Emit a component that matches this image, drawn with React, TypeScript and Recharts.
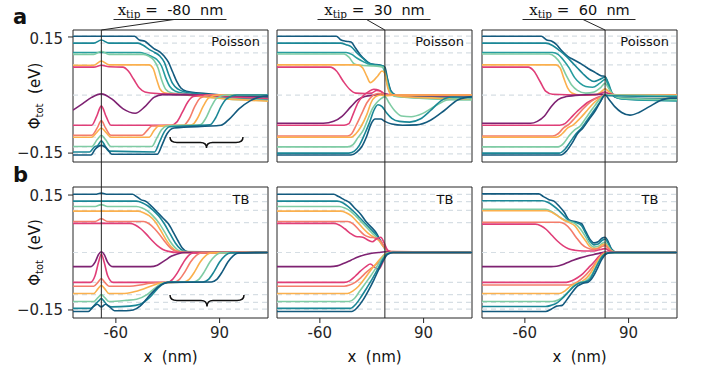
import React from 'react';
import { LineChart, Line, XAxis, YAxis, ReferenceLine, ReferenceArea } from 'recharts';

type Pt = [number, number];

const FONT = 'DejaVu Sans';
const INK = '#262626';

const X_DOMAIN: [number, number] = [-122, 160];
const X_TICKS = [-60, 90];
const Y_TICKS = [-0.15, 0.15];
const Y_DOMAIN_A: [number, number] = [-0.173, 0.168];
const Y_DOMAIN_B: [number, number] = [-0.171, 0.171];

const TIP_LABELS = ['-80', '30', '60'];
const TIP_X = [-81, 34, 56];
const LEVELS_A = [0.152, 0.134, 0.109, 0.078, 0, -0.078, -0.109, -0.134, -0.152];
const LEVELS_B = [0.152, 0.133, 0.11, 0.078, 0, -0.078, -0.11, -0.13, -0.148];

const DB = '#135a7e';
const TE = '#1a8796';
const TL = '#269d9e';
const MI = '#7fcca4';
const OR = '#fbb04d';
const SA = '#f47c6b';
const PI = '#e03e78';
const PU = '#7e2272';

const COLORS_A = [DB, TE, TL, MI, OR, PI, PU, PI, SA, OR, MI, TE, DB];
const COLORS_B = [DB, TE, MI, OR, SA, PI, PU, PI, SA, OR, MI, TE, DB];

// Poisson, x_tip = -80
const POISSON_M80: Pt[][] = [
  [[-122,0.152],[-33,0.152],[-26,0.142],[-18,0.139],[-12,0.13],[-5,0.12],[3,0.112],[10,0.1],[16,0.085],[22,0.06],[28,0.035],[34,0.018],[42,0.01],[70,0.004],[110,-0.002],[160,-0.006]],
  [[-122,0.134],[-92,0.134],[-81,0.142],[-70,0.134],[-28,0.134],[-20,0.128],[-12,0.118],[-4,0.11],[4,0.1],[10,0.085],[16,0.055],[22,0.03],[30,0.015],[40,0.008],[80,0.0],[160,-0.008]],
  [[-122,0.11],[-25,0.11],[-17,0.106],[-9,0.1],[-1,0.092],[6,0.075],[12,0.045],[18,0.022],[26,0.01],[40,0.004],[90,-0.005],[160,-0.012]],
  [[-122,0.105],[-92,0.105],[-81,0.113],[-70,0.105],[-20,0.105],[-12,0.1],[-5,0.09],[1,0.07],[6,0.04],[12,0.015],[20,0.006],[50,0.0],[100,-0.01],[160,-0.014]],
  [[-122,0.077],[-92,0.077],[-81,0.088],[-70,0.078],[-12,0.078],[-6,0.068],[-1,0.04],[4,0.015],[10,0.006],[40,0.0],[100,-0.01],[160,-0.016]],
  [[-122,0.072],[-92,0.072],[-81,0.077],[-70,0.073],[-50,0.072],[-42,0.062],[-34,0.04],[-26,0.018],[-18,0.008],[0,0.004],[40,0.002],[100,-0.004],[160,-0.009]],
  [[-122,-0.039],[-108,-0.022],[-95,-0.006],[-81,0.003],[-66,-0.01],[-50,-0.035],[-32,-0.047],[-18,-0.03],[-5,-0.006],[8,0.001],[50,0.0],[160,-0.003]],
  [[-122,-0.078],[-95,-0.078],[-88,-0.056],[-81,-0.028],[-74,-0.056],[-67,-0.078],[20,-0.078],[28,-0.07],[36,-0.045],[44,-0.018],[52,-0.004],[70,0.0],[160,0.0]],
  [[-122,-0.104],[-95,-0.104],[-87,-0.085],[-81,-0.066],[-75,-0.085],[-67,-0.104],[-22,-0.104],[-15,-0.092],[-8,-0.08],[38,-0.078],[46,-0.062],[54,-0.03],[62,-0.008],[75,0.0],[160,0.0]],
  [[-122,-0.109],[-95,-0.109],[-87,-0.095],[-81,-0.085],[-75,-0.095],[-67,-0.109],[-12,-0.109],[-5,-0.092],[2,-0.08],[50,-0.077],[58,-0.06],[66,-0.03],[74,-0.008],[88,0.0],[160,0.0]],
  [[-122,-0.133],[-95,-0.133],[-87,-0.115],[-81,-0.104],[-75,-0.115],[-67,-0.133],[-8,-0.133],[-1,-0.112],[6,-0.09],[14,-0.08],[62,-0.077],[70,-0.06],[78,-0.03],[86,-0.008],[100,0.0],[160,0.0]],
  [[-122,-0.147],[-98,-0.147],[-91,-0.134],[-86,-0.13],[-81,-0.118],[-76,-0.13],[-70,-0.145],[-4,-0.147],[3,-0.122],[10,-0.095],[18,-0.082],[76,-0.077],[84,-0.06],[92,-0.03],[100,-0.01],[115,0.0],[160,0.0]],
  [[-122,-0.155],[-96,-0.155],[-90,-0.14],[-81,-0.13],[-72,-0.14],[-66,-0.153],[0,-0.153],[7,-0.128],[14,-0.1],[24,-0.085],[92,-0.078],[104,-0.062],[118,-0.036],[134,-0.015],[148,-0.005],[160,-0.002]],
];

// Poisson, x_tip = 30
const POISSON_30: Pt[][] = [
  [[-122,0.152],[-36,0.152],[-30,0.143],[-22,0.139],[-15,0.137],[-8,0.12],[-2,0.105],[6,0.09],[14,0.08],[28,0.077],[34,0.072],[38,0.04],[43,0.01],[50,0.0],[80,-0.003],[160,-0.006]],
  [[-122,0.134],[-30,0.134],[-22,0.13],[-15,0.125],[-6,0.108],[2,0.095],[10,0.083],[20,0.078],[32,0.075],[37,0.045],[42,0.012],[50,0.0],[100,-0.004],[160,-0.007]],
  [[-122,0.11],[-22,0.11],[-14,0.105],[-6,0.095],[4,0.085],[14,0.078],[30,0.074],[36,0.045],[41,0.01],[50,-0.003],[100,-0.008],[160,-0.01]],
  [[-122,0.106],[-25,0.106],[-18,0.098],[-10,0.08],[-2,0.077],[20,0.075],[32,0.072],[36,0.04],[41,0.008],[50,-0.004],[100,-0.01],[160,-0.013]],
  [[-122,0.078],[-5,0.078],[2,0.07],[8,0.048],[13,0.032],[18,0.038],[24,0.05],[30,0.062],[34,0.055],[38,0.02],[43,0.002],[60,-0.004],[160,-0.01]],
  [[-122,0.072],[-45,0.072],[-36,0.062],[-26,0.035],[-17,0.015],[-8,0.005],[5,0.004],[15,0.005],[22,0.012],[28,0.01],[34,0.002],[45,0.0],[160,-0.002]],
  [[-122,-0.073],[-55,-0.073],[-40,-0.068],[-28,-0.055],[-15,-0.03],[-5,-0.012],[5,-0.004],[20,0.0],[33,0.003],[45,0.0],[160,-0.002]],
  [[-122,-0.078],[-25,-0.078],[-18,-0.074],[-12,-0.05],[-5,-0.02],[2,-0.003],[10,0.008],[18,0.015],[26,0.012],[34,0.002],[45,0.0],[160,0.0]],
  [[-122,-0.106],[-20,-0.106],[-14,-0.1],[-8,-0.08],[0,-0.05],[8,-0.02],[16,-0.002],[24,0.004],[30,0.004],[34,0.0],[45,0.0],[160,0.0]],
  [[-122,-0.109],[-15,-0.109],[-8,-0.1],[0,-0.08],[8,-0.05],[14,-0.02],[20,-0.005],[28,0.0],[34,-0.002],[50,0.0],[160,0.0]],
  [[-122,-0.134],[-20,-0.134],[-12,-0.128],[-5,-0.11],[3,-0.09],[10,-0.06],[16,-0.035],[22,-0.02],[28,-0.01],[34,-0.004],[40,-0.02],[48,-0.04],[58,-0.054],[72,-0.056],[88,-0.048],[105,-0.03],[125,-0.012],[145,-0.008],[160,-0.01]],
  [[-122,-0.15],[-18,-0.15],[-10,-0.145],[-3,-0.13],[5,-0.1],[12,-0.07],[18,-0.04],[24,-0.025],[30,-0.03],[36,-0.045],[44,-0.06],[55,-0.068],[70,-0.07],[85,-0.062],[100,-0.04],[115,-0.015],[130,-0.005],[160,-0.006]],
  [[-122,-0.155],[-15,-0.155],[-7,-0.148],[0,-0.135],[8,-0.105],[14,-0.075],[20,-0.062],[28,-0.062],[34,-0.068],[44,-0.075],[60,-0.078],[80,-0.077],[100,-0.065],[120,-0.04],[140,-0.012],[160,-0.004]],
];

// Poisson, x_tip = 60
const POISSON_60: Pt[][] = [
  [[-122,0.152],[-36,0.152],[-29,0.143],[-21,0.139],[-14,0.13],[-7,0.115],[2,0.1],[12,0.09],[22,0.08],[32,0.068],[42,0.058],[50,0.05],[56,0.048],[60,0.03],[65,0.005],[72,-0.006],[90,-0.008],[160,-0.01]],
  [[-122,0.134],[-30,0.134],[-20,0.128],[-10,0.115],[0,0.1],[8,0.085],[16,0.07],[24,0.055],[32,0.042],[40,0.035],[48,0.04],[56,0.046],[61,0.03],[66,0.005],[75,-0.008],[100,-0.012],[160,-0.014]],
  [[-122,0.11],[-20,0.11],[-12,0.105],[-4,0.09],[4,0.07],[12,0.045],[20,0.03],[28,0.022],[38,0.02],[48,0.03],[56,0.04],[62,0.02],[68,0.0],[80,-0.01],[160,-0.015]],
  [[-122,0.106],[-25,0.106],[-16,0.098],[-8,0.08],[0,0.05],[8,0.025],[16,0.012],[28,0.005],[40,0.008],[50,0.02],[56,0.03],[62,0.015],[68,0.0],[80,-0.008],[160,-0.012]],
  [[-122,0.078],[-15,0.078],[-9,0.07],[-4,0.045],[2,0.018],[8,0.005],[20,0.0],[40,0.0],[50,0.008],[56,0.016],[62,0.008],[70,0.0],[160,-0.005]],
  [[-122,0.072],[-55,0.072],[-47,0.062],[-38,0.035],[-30,0.01],[-20,0.002],[20,0.0],[45,0.001],[56,0.008],[62,0.003],[75,0.0],[160,0.0]],
  [[-122,-0.073],[-52,-0.073],[-42,-0.068],[-32,-0.055],[-22,-0.03],[-12,-0.012],[0,-0.004],[20,0.0],[56,0.002],[70,0.0],[160,0.0]],
  [[-122,-0.078],[-10,-0.078],[-2,-0.074],[6,-0.06],[14,-0.045],[22,-0.032],[30,-0.02],[40,-0.01],[50,-0.003],[56,0.0],[64,0.0],[160,0.0]],
  [[-122,-0.106],[-20,-0.106],[-12,-0.1],[-4,-0.085],[4,-0.075],[12,-0.06],[22,-0.04],[32,-0.022],[42,-0.01],[52,-0.003],[56,0.0],[64,0.0],[160,0.0]],
  [[-122,-0.109],[-14,-0.109],[-6,-0.1],[2,-0.085],[10,-0.077],[20,-0.06],[30,-0.04],[40,-0.02],[50,-0.006],[56,0.0],[64,0.0],[160,0.0]],
  [[-122,-0.134],[-12,-0.134],[-4,-0.125],[4,-0.105],[12,-0.09],[20,-0.08],[28,-0.06],[38,-0.035],[48,-0.012],[56,0.0],[62,0.0],[160,-0.002]],
  [[-122,-0.15],[-10,-0.15],[-2,-0.14],[6,-0.12],[14,-0.1],[22,-0.085],[30,-0.065],[40,-0.04],[48,-0.02],[56,0.0],[62,-0.002],[160,-0.004]],
  [[-122,-0.155],[-8,-0.155],[0,-0.145],[8,-0.125],[16,-0.1],[24,-0.085],[32,-0.065],[42,-0.04],[50,-0.015],[56,0.0],[62,-0.012],[70,-0.03],[80,-0.045],[92,-0.052],[105,-0.045],[120,-0.03],[135,-0.015],[150,-0.008],[160,-0.008]],
];

// TB, x_tip = -80
const TB_M80: Pt[][] = [
  [[-122,0.152],[-90,0.152],[-81,0.155],[-72,0.152],[-36,0.152],[-30,0.146],[-24,0.138],[-16,0.133],[-8,0.12],[0,0.105],[8,0.09],[16,0.075],[24,0.05],[30,0.03],[36,0.012],[44,0.002],[55,0.0],[160,0.0]],
  [[-122,0.134],[-30,0.134],[-22,0.13],[-14,0.122],[-6,0.11],[2,0.095],[10,0.075],[18,0.05],[26,0.025],[34,0.008],[42,0.001],[160,0.0]],
  [[-122,0.12],[-90,0.12],[-81,0.125],[-72,0.12],[-30,0.12],[-22,0.116],[-14,0.108],[-6,0.095],[2,0.078],[10,0.055],[18,0.03],[26,0.012],[34,0.003],[160,0.0]],
  [[-122,0.108],[-28,0.108],[-20,0.104],[-12,0.096],[-4,0.082],[4,0.06],[12,0.035],[20,0.015],[28,0.004],[40,0.0],[160,0.0]],
  [[-122,0.081],[-90,0.081],[-81,0.088],[-72,0.081],[-20,0.081],[-12,0.075],[-4,0.062],[4,0.045],[12,0.026],[20,0.01],[28,0.003],[40,0.0],[160,0.0]],
  [[-122,0.076],[-40,0.076],[-32,0.072],[-24,0.062],[-16,0.048],[-8,0.032],[0,0.018],[8,0.008],[16,0.003],[30,0.0],[160,0.0]],
  [[-122,-0.037],[-97,-0.037],[-90,-0.025],[-85,-0.005],[-81,0.002],[-77,-0.005],[-72,-0.025],[-64,-0.037],[-10,-0.037],[0,-0.033],[10,-0.022],[20,-0.01],[30,-0.003],[40,0.0],[160,0.0]],
  [[-122,-0.078],[-97,-0.078],[-90,-0.06],[-85,-0.025],[-81,-0.004],[-77,-0.025],[-72,-0.06],[-64,-0.078],[15,-0.078],[22,-0.07],[30,-0.05],[38,-0.025],[45,-0.008],[52,-0.001],[160,0.0]],
  [[-122,-0.088],[-92,-0.088],[-86,-0.078],[-81,-0.068],[-76,-0.078],[-70,-0.088],[-40,-0.088],[-25,-0.085],[-10,-0.08],[25,-0.077],[32,-0.07],[40,-0.05],[48,-0.025],[56,-0.008],[64,-0.001],[160,0.0]],
  [[-122,-0.107],[-92,-0.107],[-86,-0.095],[-81,-0.086],[-76,-0.095],[-70,-0.107],[-50,-0.107],[-35,-0.103],[-20,-0.095],[-5,-0.085],[5,-0.079],[38,-0.077],[46,-0.07],[54,-0.05],[62,-0.025],[70,-0.008],[78,-0.001],[160,0.0]],
  [[-122,-0.128],[-92,-0.128],[-86,-0.118],[-81,-0.11],[-76,-0.118],[-70,-0.128],[-45,-0.125],[-30,-0.122],[-15,-0.11],[-5,-0.095],[5,-0.082],[15,-0.078],[52,-0.077],[60,-0.07],[68,-0.05],[76,-0.025],[84,-0.008],[92,-0.001],[160,0.0]],
  [[-122,-0.146],[-96,-0.146],[-90,-0.135],[-84,-0.125],[-81,-0.12],[-78,-0.125],[-72,-0.138],[-66,-0.142],[-40,-0.14],[-25,-0.135],[-10,-0.115],[0,-0.095],[10,-0.08],[20,-0.077],[66,-0.077],[74,-0.07],[82,-0.05],[90,-0.025],[98,-0.008],[106,-0.001],[160,0.0]],
  [[-122,-0.154],[-100,-0.154],[-93,-0.142],[-87,-0.135],[-81,-0.142],[-75,-0.135],[-69,-0.142],[-62,-0.152],[-45,-0.152],[-35,-0.15],[-25,-0.14],[-15,-0.12],[-5,-0.1],[5,-0.085],[15,-0.078],[78,-0.077],[86,-0.07],[94,-0.05],[102,-0.025],[110,-0.008],[118,-0.001],[160,0.0]],
];

// TB, x_tip = 30
const TB_30: Pt[][] = [
  [[-122,0.152],[-40,0.152],[-33,0.146],[-25,0.138],[-17,0.13],[-9,0.115],[-1,0.1],[7,0.08],[15,0.065],[22,0.05],[28,0.03],[34,0.012],[40,0.003],[50,0.0],[160,0.0]],
  [[-122,0.134],[-35,0.134],[-27,0.13],[-19,0.12],[-10,0.105],[-2,0.09],[6,0.075],[14,0.06],[22,0.045],[28,0.028],[34,0.01],[40,0.002],[160,0.0]],
  [[-122,0.12],[-32,0.12],[-24,0.116],[-16,0.108],[-8,0.095],[0,0.08],[8,0.065],[16,0.05],[24,0.035],[30,0.02],[36,0.006],[44,0.0],[160,0.0]],
  [[-122,0.108],[-30,0.108],[-22,0.104],[-14,0.095],[-6,0.08],[2,0.064],[10,0.05],[18,0.04],[26,0.03],[32,0.015],[38,0.004],[46,0.0],[160,0.0]],
  [[-122,0.081],[-20,0.081],[-12,0.075],[-4,0.06],[4,0.046],[12,0.04],[20,0.038],[28,0.03],[34,0.012],[40,0.003],[160,0.0]],
  [[-122,0.076],[-40,0.076],[-32,0.072],[-24,0.062],[-16,0.05],[-8,0.042],[2,0.04],[10,0.032],[16,0.028],[22,0.036],[28,0.04],[33,0.025],[38,0.006],[45,0.0],[160,0.0]],
  [[-122,-0.037],[-45,-0.037],[-35,-0.035],[-25,-0.028],[-15,-0.02],[-5,-0.012],[5,-0.006],[15,-0.002],[25,0.0],[34,0.002],[42,0.0],[160,0.0]],
  [[-122,-0.078],[-25,-0.078],[-17,-0.074],[-9,-0.062],[-1,-0.048],[7,-0.036],[13,-0.03],[19,-0.038],[25,-0.044],[30,-0.03],[35,-0.008],[42,0.0],[160,0.0]],
  [[-122,-0.088],[-25,-0.088],[-17,-0.085],[-9,-0.078],[-1,-0.066],[7,-0.052],[15,-0.04],[22,-0.03],[28,-0.02],[34,-0.006],[42,0.0],[160,0.0]],
  [[-122,-0.107],[-20,-0.107],[-12,-0.1],[-4,-0.088],[4,-0.07],[12,-0.05],[20,-0.032],[28,-0.015],[35,-0.003],[42,0.0],[160,0.0]],
  [[-122,-0.128],[-18,-0.128],[-10,-0.12],[-2,-0.1],[6,-0.08],[14,-0.06],[22,-0.038],[30,-0.015],[36,-0.003],[44,0.0],[160,0.0]],
  [[-122,-0.146],[-16,-0.146],[-8,-0.135],[0,-0.115],[8,-0.092],[16,-0.068],[24,-0.042],[31,-0.018],[37,-0.004],[44,0.0],[160,0.0]],
  [[-122,-0.154],[-14,-0.154],[-6,-0.144],[2,-0.125],[10,-0.1],[18,-0.072],[25,-0.045],[32,-0.02],[38,-0.005],[46,0.0],[160,0.0]],
];

// TB, x_tip = 60
const TB_60: Pt[][] = [
  [[-122,0.153],[-40,0.153],[-33,0.146],[-25,0.138],[-18,0.134],[-10,0.12],[-3,0.105],[4,0.085],[14,0.08],[22,0.075],[28,0.055],[34,0.035],[40,0.025],[46,0.028],[52,0.038],[56,0.04],[60,0.03],[65,0.01],[72,0.001],[160,0.0]],
  [[-122,0.135],[-35,0.135],[-27,0.131],[-19,0.122],[-11,0.11],[-3,0.095],[5,0.082],[14,0.078],[22,0.07],[28,0.05],[34,0.03],[40,0.02],[46,0.022],[52,0.032],[56,0.035],[61,0.022],[66,0.006],[74,0.0],[160,0.0]],
  [[-122,0.113],[-30,0.113],[-22,0.108],[-14,0.098],[-6,0.088],[2,0.082],[12,0.076],[20,0.062],[28,0.04],[34,0.022],[40,0.014],[46,0.016],[52,0.024],[56,0.027],[61,0.015],[66,0.004],[74,0.0],[160,0.0]],
  [[-122,0.109],[-28,0.109],[-20,0.104],[-12,0.095],[-4,0.085],[4,0.078],[12,0.07],[20,0.05],[28,0.03],[34,0.015],[40,0.01],[46,0.012],[52,0.02],[56,0.022],[61,0.012],[66,0.003],[74,0.0],[160,0.0]],
  [[-122,0.079],[-10,0.079],[-2,0.074],[6,0.06],[14,0.04],[22,0.022],[30,0.012],[38,0.008],[46,0.01],[52,0.016],[56,0.018],[61,0.01],[66,0.002],[74,0.0],[160,0.0]],
  [[-122,0.074],[-45,0.074],[-37,0.07],[-29,0.06],[-21,0.045],[-13,0.03],[-5,0.018],[3,0.01],[12,0.006],[25,0.004],[40,0.004],[50,0.008],[56,0.01],[62,0.004],[70,0.0],[160,0.0]],
  [[-122,-0.037],[-22,-0.037],[-14,-0.036],[-6,-0.032],[2,-0.026],[10,-0.02],[20,-0.014],[30,-0.009],[40,-0.005],[50,-0.001],[56,0.001],[62,0.0],[160,0.0]],
  [[-122,-0.078],[0,-0.078],[8,-0.074],[16,-0.066],[24,-0.055],[32,-0.04],[40,-0.025],[46,-0.012],[52,-0.003],[56,0.0],[62,0.0],[160,0.0]],
  [[-122,-0.085],[5,-0.085],[13,-0.08],[21,-0.07],[29,-0.057],[37,-0.04],[43,-0.025],[49,-0.01],[54,-0.002],[60,0.0],[160,0.0]],
  [[-122,-0.107],[-10,-0.107],[-2,-0.1],[6,-0.088],[14,-0.08],[22,-0.076],[30,-0.065],[38,-0.045],[44,-0.025],[50,-0.01],[56,-0.002],[62,0.0],[160,0.0]],
  [[-122,-0.128],[-20,-0.128],[-12,-0.124],[-4,-0.115],[4,-0.1],[12,-0.085],[20,-0.078],[28,-0.074],[36,-0.06],[42,-0.04],[48,-0.02],[54,-0.006],[60,-0.001],[160,0.0]],
  [[-122,-0.141],[-30,-0.141],[-22,-0.138],[-14,-0.132],[-6,-0.12],[2,-0.105],[10,-0.09],[18,-0.08],[26,-0.077],[34,-0.07],[40,-0.05],[46,-0.028],[52,-0.01],[58,-0.002],[64,0.0],[160,0.0]],
  [[-122,-0.154],[-30,-0.154],[-22,-0.148],[-14,-0.14],[-6,-0.138],[0,-0.125],[8,-0.105],[16,-0.088],[24,-0.08],[32,-0.077],[38,-0.065],[44,-0.045],[50,-0.022],[56,-0.006],[62,-0.001],[70,0.0],[160,0.0]],
];

const ROWS = [
  { panels: [POISSON_M80, POISSON_30, POISSON_60], colors: COLORS_A, levels: LEVELS_A, yDomain: Y_DOMAIN_A, tag: 'Poisson' },
  { panels: [TB_M80, TB_30, TB_60], colors: COLORS_B, levels: LEVELS_B, yDomain: Y_DOMAIN_B, tag: 'TB' },
];

// layout (px)
const PLOT_W = 195;
const COL_LEFT = [73, 277, 482];
const ROW_TOP = [30, 187];
const ROW_H = [132, 131];
const Y_AXIS_W = 60;
const X_AXIS_H = 30;

const tipPx = (col: number) =>
  COL_LEFT[col] + ((TIP_X[col] - X_DOMAIN[0]) / (X_DOMAIN[1] - X_DOMAIN[0])) * PLOT_W;

const fmtY = (v: number) => (v < 0 ? '\u2212' : '') + Math.abs(v).toFixed(2);

function Panel({ row, col }: { row: number; col: number }) {
  const r = ROWS[row];
  const curves = r.panels[col];
  const showY = col === 0;
  const showX = row === 1;
  const yw = showY ? Y_AXIS_W : 0;
  const xh = showX ? X_AXIS_H : 0;
  const [y0, y1] = r.yDomain;
  // below-panel end of the tip line for the top row (reaches the lower row)
  const gapBottom = y1 - ((ROW_TOP[1] - ROW_TOP[0]) / ROW_H[0]) * (y1 - y0);
  return (
    <div style={{ position: 'absolute', left: COL_LEFT[col] - yw, top: ROW_TOP[row] }}>
      <LineChart width={PLOT_W + yw} height={ROW_H[row] + xh} margin={{ top: 0, right: 0, bottom: 0, left: 0 }}>
        <XAxis
          type="number"
          dataKey="x"
          domain={X_DOMAIN}
          allowDataOverflow
          ticks={X_TICKS}
          hide={!showX}
          height={xh}
          axisLine={false}
          tickLine={{ stroke: INK }}
          tickSize={5}
          tickMargin={4}
          tick={{ fill: INK, fontSize: 15, fontFamily: FONT }}
        />
        <YAxis
          type="number"
          domain={r.yDomain}
          allowDataOverflow
          ticks={Y_TICKS}
          tickFormatter={fmtY}
          hide={!showY}
          width={yw}
          axisLine={false}
          tickLine={{ stroke: INK }}
          tickSize={5}
          tickMargin={5}
          tick={{ fill: INK, fontSize: 15, fontFamily: FONT }}
        />
        {r.levels.map((v) => (
          <ReferenceLine key={'l' + v} y={v} stroke="#d6dee4" strokeDasharray="5 4" strokeWidth={1.2} />
        ))}
        {curves.map((c, i) => (
          <Line
            key={i}
            data={c.map(([x, y]) => ({ x, y }))}
            dataKey="y"
            type="monotone"
            stroke={r.colors[i]}
            strokeWidth={1.6}
            dot={false}
            activeDot={false}
            isAnimationActive={false}
          />
        ))}
        {row === 0 ? (
          <ReferenceLine
            segment={[{ x: TIP_X[col], y: y1 }, { x: TIP_X[col], y: gapBottom }]}
            stroke={INK}
            strokeWidth={1}
            ifOverflow="visible"
          />
        ) : (
          <ReferenceLine x={TIP_X[col]} stroke={INK} strokeWidth={1} />
        )}
        <ReferenceArea x1={X_DOMAIN[0]} x2={X_DOMAIN[1]} y1={y0} y2={y1} fill="none" fillOpacity={0} stroke={INK} strokeWidth={1} />
      </LineChart>
    </div>
  );
}

function Brace({ x0, x1, yt, ym, yb }: { x0: number; x1: number; yt: number; ym: number; yb: number }) {
  const xc = (x0 + x1) / 2;
  const d = `M${x0},${yt} Q${x0},${ym} ${x0 + 7},${ym} L${xc - 6},${ym} Q${xc},${ym} ${xc},${yb} Q${xc},${ym} ${xc + 6},${ym} L${x1 - 7},${ym} Q${x1},${ym} ${x1},${yt}`;
  return <path d={d} fill="none" stroke="#111" strokeWidth={1.5} />;
}

const ATTACH_DX = [3.5, -8, 3.5];

export default function App() {
  return (
    <div style={{ position: 'absolute', left: 0, top: 0, width: 705, height: 377, background: '#fff', fontFamily: FONT }}>
      <style>{'.recharts-surface{overflow:visible}'}</style>
      {[0, 1].map((row) => [0, 1, 2].map((col) => <Panel key={row + '-' + col} row={row} col={col} />))}
      {/* panel tags */}
      {[0, 1].map((row) =>
        [0, 1, 2].map((col) => (
          <div
            key={'t' + row + col}
            style={{
              position: 'absolute',
              left: COL_LEFT[col] + PLOT_W - (row === 0 ? 8 : 27),
              top: ROW_TOP[row] + (row === 0 ? 4 : 5),
              transform: row === 0 ? 'translateX(-100%)' : 'translateX(-50%)',
              fontSize: 13,
              color: '#111',
              whiteSpace: 'nowrap',
            }}
          >
            {ROWS[row].tag}
          </div>
        ))
      )}
      <svg width={705} height={377} style={{ position: 'absolute', left: 0, top: 0, pointerEvents: 'none' }}>
        <text x={13} y={24} fontSize={21} fontWeight="bold" fill="#111" fontFamily={FONT}>a</text>
        <text x={13} y={182} fontSize={21} fontWeight="bold" fill="#111" fontFamily={FONT}>b</text>
        {[0, 1].map((row) => {
          const cy = ROW_TOP[row] + ROW_H[row] / 2;
          return (
            <text
              key={'yl' + row}
              transform={`translate(40, ${cy}) rotate(-90)`}
              textAnchor="middle"
              fontSize={15}
              fill="#111"
              fontFamily={FONT}
              style={{ whiteSpace: 'pre' }}
            >
              Φ<tspan fontSize={10} dy={3}>tot</tspan>
              <tspan dy={-3}>{'  (eV)'}</tspan>
            </text>
          );
        })}
        {[0, 1, 2].map((col) => {
          const cx = COL_LEFT[col] + PLOT_W / 2;
          return (
            <g key={'ttl' + col}>
              <text x={cx} y={15} textAnchor="middle" fill="#111" style={{ whiteSpace: 'pre' }}>
                <tspan fontFamily="DejaVu Serif" fontSize={15}>x</tspan>
                <tspan fontFamily="DejaVu Serif" fontSize={10.5} dy={3}>tip</tspan>
                <tspan fontFamily="DejaVu Serif" fontSize={15} dy={-3}>{' = '}</tspan>
                <tspan fontFamily={FONT} fontSize={14.5}>{' ' + TIP_LABELS[col] + '  nm'}</tspan>
              </text>
              <line x1={cx - 57} x2={cx + 56} y1={19.5} y2={19.5} stroke={INK} strokeWidth={1} />
              <line x1={cx + ATTACH_DX[col]} y1={19.5} x2={tipPx(col)} y2={ROW_TOP[0]} stroke={INK} strokeWidth={1} />
              <text x={cx} y={362} textAnchor="middle" fontSize={15} fill="#111" fontFamily={FONT} style={{ whiteSpace: 'pre' }}>
                {'x  (nm)'}
              </text>
            </g>
          );
        })}
        <Brace x0={170} x1={243} yt={137} ym={142.5} yb={148} />
        <Brace x0={170} x1={244} yt={295} ym={300.5} yb={306.5} />
      </svg>
    </div>
  );
}
